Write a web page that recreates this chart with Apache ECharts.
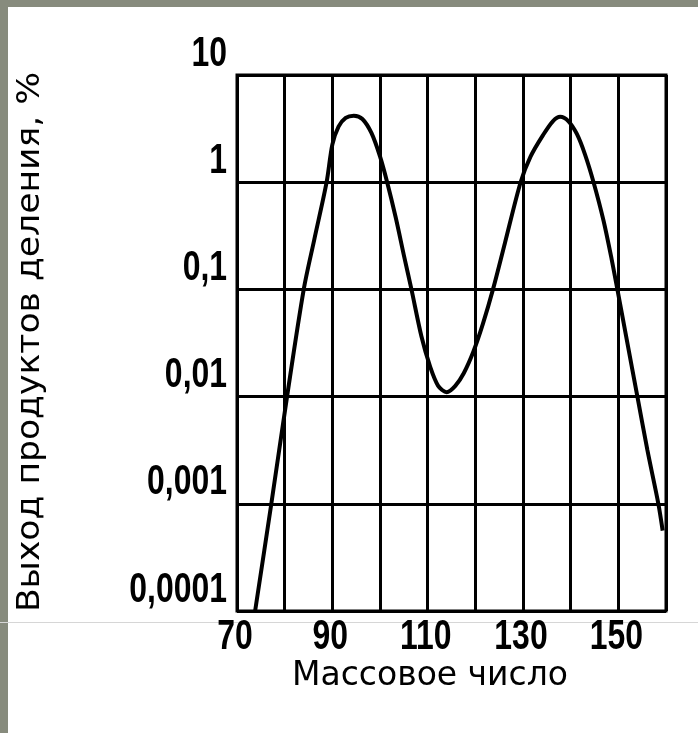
<!DOCTYPE html>
<html>
<head>
<meta charset="utf-8">
<script src="https://cdn.jsdelivr.net/npm/echarts@6/dist/echarts.min.js"></script>
<style>
html,body{margin:0;padding:0;background:#fff;}
#chart{width:698px;height:733px;}
</style>
</head>
<body>
<div id="chart"></div>
<script>
// Data
const massNumbers = [73.8, 77.2, 80.5, 84.0, 86.2, 88.8, 90.0, 91.3, 92.8, 94.5, 96.3, 98.2, 100.0, 101.5, 103.3, 105.0, 106.6, 108.7, 110.5, 112.2, 114.0, 115.8, 117.6, 119.6, 121.6, 123.7, 126.2, 129.5, 131.6, 134.2, 136.3, 137.8, 139.5, 141.3, 143.0, 144.8, 146.9, 148.6, 149.8, 151.6, 154.0, 156.1, 158.4, 159.3];
const yieldPercent = [0.0001, 0.001, 0.01, 0.1, 0.29, 1.0, 2.24, 3.3, 3.98, 4.17, 3.89, 2.88, 1.74, 1.0, 0.468, 0.209, 0.1, 0.0363, 0.0191, 0.0126, 0.011, 0.0126, 0.0166, 0.0263, 0.0479, 0.1, 0.27, 1.0, 1.74, 2.75, 3.72, 4.07, 3.72, 2.82, 1.82, 1.0, 0.437, 0.191, 0.1, 0.0372, 0.01, 0.00316, 0.001, 0.000562];
const xTickLabels = [70, 90, 110, 130, 150];
const yTickValues = [0.0001, 0.001, 0.01, 0.1, 1, 10];
const yTickLabels = ['0,0001', '0,001', '0,01', '0,1', '1', '10'];
const xTitle = 'Массовое число';
const yTitle = 'Выход продуктов деления, %';

const seriesData = massNumbers.map((m, i) => [m, yieldPercent[i]]);
const chart = echarts.init(document.getElementById('chart'), null, {renderer: 'canvas'});
chart.setOption({
  animation: false,
  backgroundColor: '#ffffff',
  grid: {left: 237, top: 75, width: 429, height: 536, show: true, borderColor: '#000', borderWidth: 3, backgroundColor: 'transparent'},
  xAxis: {
    type: 'value', min: 70, max: 160, interval: 10,
    axisLine: {show: false}, axisTick: {show: false}, axisLabel: {show: false},
    splitLine: {show: true, lineStyle: {color: '#000', width: 3}}
  },
  yAxis: {
    type: 'log', logBase: 10, min: 0.0001, max: 10,
    axisLine: {show: false}, axisTick: {show: false}, axisLabel: {show: false},
    splitLine: {show: true, lineStyle: {color: '#000', width: 3}}
  },
  series: [{
    type: 'line', data: seriesData, smooth: 0.3, showSymbol: false, symbol: 'none',
    lineStyle: {color: '#000', width: 4}, clip: true, z: 5
  }]
});

// Tick labels and titles, placed through the chart's own axes
const labelFont = 'bold 42px "Liberation Sans", Arial, sans-serif';
const graphics = [
  {type: 'rect', z: -10, shape: {x: 0, y: 0, width: 698, height: 7}, style: {fill: '#878b7d'}},
  {type: 'rect', z: -10, shape: {x: 0, y: 0, width: 8, height: 733}, style: {fill: '#878b7d'}},
  {type: 'line', z: -5, shape: {x1: 0, y1: 622.5, x2: 698, y2: 622.5}, style: {stroke: '#d6d6d6', lineWidth: 1}}
];
const finder = {xAxisIndex: 0, yAxisIndex: 0};
yTickValues.forEach((v, i) => {
  const p = chart.convertToPixel(finder, [70, v]);
  graphics.push({type: 'text', x: p[0] - 10, y: p[1] - 21, scaleX: 0.76,
    style: {text: yTickLabels[i], font: labelFont, fill: '#000', align: 'right', verticalAlign: 'middle'}});
});
xTickLabels.forEach(v => {
  const p = chart.convertToPixel(finder, [v, 0.0001]);
  graphics.push({type: 'text', x: p[0] - 2, y: p[1] + 26, scaleX: 0.76,
    style: {text: String(v), font: labelFont, fill: '#000', align: 'center', verticalAlign: 'middle'}});
});
graphics.push({type: 'text', x: 430, y: 676, style: {text: xTitle, font: '33px "DejaVu Sans", sans-serif', fill: '#000', align: 'center', verticalAlign: 'middle'}});
graphics.push({type: 'text', x: 31, y: 342, rotation: Math.PI / 2, scaleX: 1.08, style: {text: yTitle, font: '32px "DejaVu Sans", sans-serif', fill: '#000', align: 'center', verticalAlign: 'middle'}});
chart.setOption({graphic: graphics});
</script>
</body>
</html>
